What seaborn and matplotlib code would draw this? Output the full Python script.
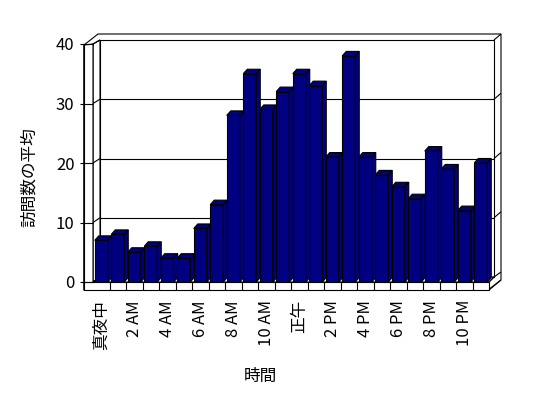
import matplotlib
matplotlib.use("Agg")
import matplotlib.pyplot as plt
import seaborn as sns
import pandas as pd
from matplotlib.patches import Polygon, Rectangle

hours = ["真夜中", "1 AM", "2 AM", "3 AM", "4 AM", "5 AM", "6 AM", "7 AM", "8 AM", "9 AM",
         "10 AM", "11 AM", "正午", "1 PM", "2 PM", "3 PM", "4 PM", "5 PM", "6 PM", "7 PM",
         "8 PM", "9 PM", "10 PM", "11 PM"]
visits = [7, 8, 5, 6, 4, 4, 9, 13, 28, 35, 29, 32, 35, 33, 21, 38, 21, 18, 16, 14, 22, 19, 12, 20]
tick_labels = ["真夜中", "2 AM", "4 AM", "6 AM", "8 AM", "10 AM", "正午", "2 PM", "4 PM", "6 PM", "8 PM", "10 PM"]
y_ticks = [0, 10, 20, 30, 40]

sns.set_theme(style="white")
plt.rcParams['font.family'] = ['Noto Sans CJK JP', 'DejaVu Sans']

W, H = 548, 398
fig = plt.figure(figsize=(W / 100, H / 100), dpi=100)
fig.patch.set_facecolor("white")

# front plane geometry (pixels)
X0, CAT = 93.0, 16.5          # left of category area, px per category
Y0, UNIT = 282.0, 5.95        # baseline, px per unit
ax = fig.add_axes([X0 / W, (H - Y0) / H, 24 * CAT / W, 40 * UNIT / H])
ax.set_facecolor("none")

def X(px):
    return -0.5 + (px - X0) / CAT

def Y(py):
    return (Y0 - py) / UNIT

LW = 0.8
navy = "#000080"

def poly(pts, fc="white", z=0.5, lw=LW):
    ax.add_patch(Polygon([(X(a), Y(b)) for a, b in pts], closed=True, facecolor=fc,
                         edgecolor="black", linewidth=lw, zorder=z, clip_on=False))

def line(p, q, z=1.0):
    ax.plot([X(p[0]), X(q[0])], [Y(p[1]), Y(q[1])], color="black", lw=LW, zorder=z,
            clip_on=False, solid_capstyle="butt")

df = pd.DataFrame({"時間": hours, "訪問数の平均": visits})
sns.barplot(data=df, x="時間", y="訪問数の平均", order=hours, color=navy, saturation=1,
            width=13 / CAT, edgecolor="black", linewidth=LW, ax=ax)
bars = [p for p in ax.patches if isinstance(p, Rectangle)]

# outer box silhouette
poly([(84, 290), (84, 45), (98, 34), (501, 34), (501, 280), (488, 290)], z=0.2)
# back wall inner face
poly([(100, 40), (494, 40), (494, 277), (100, 277)], z=0.3)
# left wall inner surface
poly([(93, 44), (100, 40), (100, 277), (93, 282)], z=0.3)
# left wall front face
poly([(84, 45), (93, 44), (93, 282), (93, 290), (84, 290)], z=0.4)
# floor inner surface
poly([(93, 282), (100, 277), (494, 277), (489, 282)], z=0.3)
# floor front band
poly([(84, 282), (489, 282), (489, 290), (84, 290)], z=0.4)
line((494, 40), (501, 34))
line((494, 277), (501, 272))
line((489, 282), (494, 277))
line((489, 290), (501, 280))

# grid lines on walls
for v in y_ticks:
    fy = Y0 - v * UNIT
    by = 277 - v * 5.925
    line((84, fy), (93, fy), z=0.45)
    line((93, fy), (100, by), z=0.45)
    if 0 < v < 40:
        line((100, by), (494, by), z=0.45)
        line((494, by), (501, by - 6), z=0.45)

# floor band dividers
for k in range(23):
    xp = X0 + CAT * (k + 1)
    line((xp, 282), (xp, 290), z=0.45)

ddx = 4.0 / CAT
ddy = 4.5 / UNIT
for i, p in enumerate(bars):
    z = 3 + i * 0.01
    p.set_zorder(z)
    x0, w, h = p.get_x(), p.get_width(), p.get_height()
    top = [(x0, h), (x0 + w, h), (x0 + w + ddx, h + ddy), (x0 + ddx, h + ddy)]
    side = [(x0 + w, 0), (x0 + w + ddx, ddy), (x0 + w + ddx, h + ddy), (x0 + w, h)]
    for pts in (top, side):
        ax.add_patch(Polygon(pts, closed=True, facecolor=navy, edgecolor="black",
                             linewidth=LW, zorder=z, clip_on=False))

ax.set_xlim(-0.5, 23.5)
ax.set_ylim(0, 40)
for s in ["top", "right", "bottom"]:
    ax.spines[s].set_visible(False)
ax.spines["left"].set_position(("outward", 9 * 0.72))
ax.spines["left"].set_color("black")
ax.spines["left"].set_linewidth(LW)
ax.set_yticks(y_ticks)
ax.set_yticklabels([str(v) for v in y_ticks], fontsize=12)
ax.tick_params(axis="y", left=True, length=4 * 0.72, width=LW, color="black", pad=4, labelcolor="black")
ax.set_xticks(range(0, 24, 2))
ax.set_xticklabels(tick_labels, rotation=90, fontsize=12, va="top", ha="center")
ax.tick_params(axis="x", bottom=False, length=0, pad=13, labelcolor="black")

ax.set_ylabel("訪問数の平均", fontsize=12, color="black")
ax.yaxis.set_label_coords((38 - X0) / (24 * CAT), (Y0 - 177) / (40 * UNIT))
ax.set_xlabel("時間", fontsize=12, color="black")
ax.xaxis.set_label_coords((260 - X0) / (24 * CAT), (Y0 - 368) / (40 * UNIT))
ax.grid(False)

fig.savefig("out.png", dpi=100, facecolor="white")
